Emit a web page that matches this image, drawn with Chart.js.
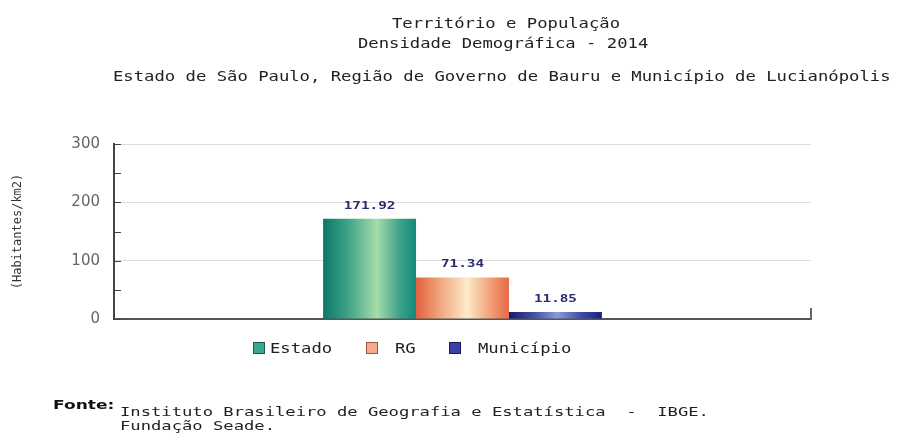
<!DOCTYPE html>
<html>
<head>
<meta charset="utf-8">
<script src="https://cdn.jsdelivr.net/npm/chart.js@4.4.1/dist/chart.umd.min.js"></script>
<style>
  body { margin: 0; background: #fff; }
</style>
</head>
<body>
<canvas id="densidade" width="902" height="442"></canvas>
<script>
// dados (hab/km2, 2014)
const categories = ['2014'];
const seriesLabels = ['Estado', 'RG', 'Município'];
const estadoValues = [171.92];
const rgValues = [71.34];
const municipioValues = [11.85];
const yTickValues = [0, 100, 200, 300];

const titleLines = ['Território e População', 'Densidade Demográfica - 2014'];
const subtitle = 'Estado de São Paulo, Região de Governo de Bauru e Município de Lucianópolis';
const sourceLines = ['Instituto Brasileiro de Geografia e Estatística  -  IBGE.', 'Fundação Seade.'];

const mono = "'DejaVu Sans Mono', monospace";
const stretch = 1.23;

const gradStops = [
    [[0, '#0c7868'], [0.25, '#3a9f86'], [0.58, '#a6dca8'], [0.82, '#3ea28a'], [1, '#118a7a']],
    [[0, '#e2603c'], [0.25, '#f0a47c'], [0.55, '#fdebc9'], [0.82, '#f09a74'], [1, '#e66a45']],
    [[0, '#151b6e'], [0.25, '#3d4aa6'], [0.52, '#8a9ad8'], [0.8, '#3a46a2'], [1, '#1a2080']]
];
const legendColors = [
    ['#3aa88c', '#1f5c4e'],
    ['#f5ab92', '#a65442'],
    ['#3b40a8', '#15185a']
];

function drawText(ctx, text, x, y, font, color, sx, align) {
    ctx.save();
    ctx.font = font;
    ctx.fillStyle = color;
    ctx.textAlign = align || 'left';
    ctx.textBaseline = 'alphabetic';
    ctx.translate(x, y);
    ctx.scale(sx, 1);
    ctx.fillText(text, 0, 0);
    ctx.restore();
}

const barGradients = {
    id: 'barGradients',
    beforeDatasetsDraw(chart) {
        const ctx = chart.ctx;
        chart.data.datasets.forEach((ds, i) => {
            chart.getDatasetMeta(i).data.forEach(el => {
                const p = el.getProps(['x', 'width'], true);
                const g = ctx.createLinearGradient(p.x - p.width / 2, 0, p.x + p.width / 2, 0);
                gradStops[i].forEach(s => g.addColorStop(s[0], s[1]));
                el.options = Object.assign({}, el.options, { backgroundColor: g });
            });
        });
    }
};

const decorations = {
    id: 'decorations',
    afterDraw(chart) {
        const ctx = chart.ctx;
        const area = chart.chartArea;
        const y = chart.scales.y;

        // marcas internas do eixo y
        ctx.save();
        ctx.strokeStyle = '#444';
        ctx.lineWidth = 1;
        y.ticks.forEach(t => {
            const py = Math.round(y.getPixelForValue(t.value)) + 0.5;
            ctx.beginPath();
            ctx.moveTo(area.left, py);
            ctx.lineTo(area.left + 7, py);
            ctx.stroke();
        });
        ctx.strokeStyle = '#666';
        ctx.lineWidth = 2;
        ctx.beginPath();
        ctx.moveTo(area.right, area.bottom - 11);
        ctx.lineTo(area.right, area.bottom + 1);
        ctx.stroke();
        ctx.restore();

        // valores sobre as barras
        chart.data.datasets.forEach((ds, i) => {
            chart.getDatasetMeta(i).data.forEach((el, j) => {
                drawText(ctx, ds.data[j].toFixed(2), el.x, el.y - 10,
                    "bold 11px " + mono, '#2a2c70', 1.3, 'center');
            });
        });

        // titulos
        drawText(ctx, titleLines[0], 392, 28, '14px ' + mono, '#222', stretch);
        drawText(ctx, titleLines[1], 358, 48, '14px ' + mono, '#222', stretch);
        drawText(ctx, subtitle, 113, 81, '14px ' + mono, '#222', stretch);

        // legenda
        const boxX = [253, 366, 449];
        const textX = [270, 395, 478];
        chart.data.datasets.forEach((ds, i) => {
            ctx.save();
            ctx.fillStyle = legendColors[i][0];
            ctx.strokeStyle = legendColors[i][1];
            ctx.lineWidth = 1;
            ctx.fillRect(boxX[i], 342, 12, 12);
            ctx.strokeRect(boxX[i] + 0.5, 342.5, 11, 11);
            ctx.restore();
            drawText(ctx, ds.label, textX[i], 353, '14px ' + mono, '#222', stretch);
        });

        // fonte
        drawText(ctx, 'Fonte:', 53, 409, "bold 12px 'DejaVu Sans', sans-serif", '#111', 1.42);
        drawText(ctx, sourceLines[0], 120, 416, '13px ' + mono, '#222', 1.32);
        drawText(ctx, sourceLines[1], 120, 430, '13px ' + mono, '#222', 1.32);
    }
};

const datasetValues = [estadoValues, rgValues, municipioValues];

new Chart(document.getElementById('densidade'), {
    type: 'bar',
    data: {
        labels: categories,
        datasets: seriesLabels.map((label, i) => ({
            label: label,
            data: datasetValues[i],
            backgroundColor: legendColors[i][0],
            borderWidth: 0,
            categoryPercentage: 0.4,
            barPercentage: 1
        }))
    },
    options: {
        responsive: false,
        animation: false,
        events: [],
        layout: {
            padding: { top: 144, right: 91, bottom: 123, left: 0 }
        },
        scales: {
            x: {
                ticks: { display: false },
                grid: { display: false, drawTicks: false },
                border: { color: '#555', width: 2 },
                afterFit(scale) { scale.height = 0; }
            },
            y: {
                min: 0,
                max: 300,
                ticks: {
                    stepSize: 50,
                    padding: 14,
                    color: '#666',
                    font: { family: "'DejaVu Sans', sans-serif", size: 15 },
                    callback: v => yTickValues.includes(v) ? String(v) : ''
                },
                grid: {
                    drawTicks: false,
                    color: c => (c.tick && c.tick.value > 0 && c.tick.value % 100 === 0) ? '#dcdcdc' : 'rgba(0,0,0,0)'
                },
                border: { color: '#444', width: 2 },
                title: {
                    display: true,
                    text: '(Habitantes/km2)',
                    color: '#333',
                    font: { family: mono, size: 12 },
                    padding: { top: 11, bottom: 0 }
                },
                afterFit(scale) { scale.width = 114; }
            }
        },
        plugins: {
            legend: { display: false },
            title: { display: false },
            tooltip: { enabled: false }
        }
    },
    plugins: [barGradients, decorations]
});
</script>
</body>
</html>
